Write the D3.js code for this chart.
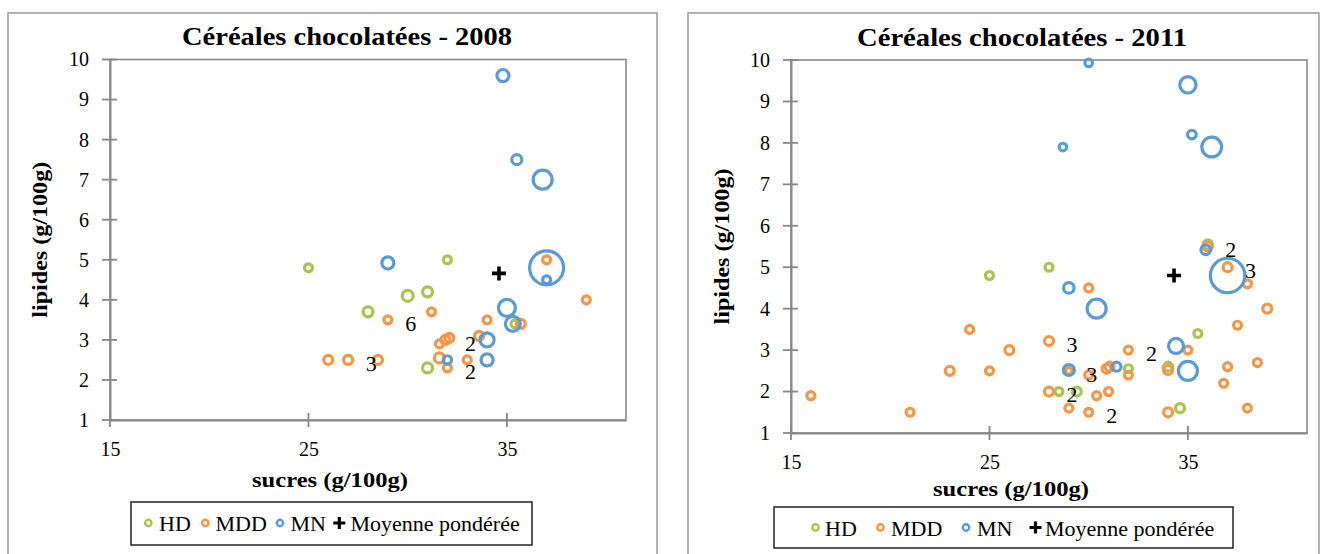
<!DOCTYPE html>
<html><head><meta charset="utf-8">
<script src="https://cdn.jsdelivr.net/npm/d3@7"></script>
<style>body{margin:0;background:#fff}svg{display:block}</style>
</head><body>
<svg id="c" width="1321" height="554"></svg>
<script>
// ---- data ----
const xTicks = [15, 25, 35];
const yTicks = [1, 2, 3, 4, 5, 6, 7, 8, 9, 10];
const seriesNames = ["HD", "MDD", "MN", "Moyenne pondérée"];
const seriesColors = ["#A9C44F", "#F79646", "#5A9BD5", "#000000"];
const titles = ["Céréales chocolatées - 2008", "Céréales chocolatées - 2011"];
const xTitle = "sucres (g/100g)";
const yTitle = "lipides (g/100g)";

// [sucres, lipides, taille de bulle]
const hd2008 = [[25,4.8,5.5],[32,5.0,5.5],[30,4.1,10.5],[31,4.2,8.7],[28,3.7,8.7],[35.4,3.4,5.5],[31,2.3,8.7]];
const mdd2008 = [[26,2.5,7],[27,2.5,7],[28.5,2.5,7],[29,3.5,5.5],[31.2,3.7,5.5],[34,3.5,5.5],[35.7,3.4,7],[33.6,3.1,7],
  [31.9,3.0,7],[32.1,3.05,7],[31.6,2.9,5.5],[31.6,2.55,8.7],[32,2.3,5.5],[33,2.5,5.5],[37,5.0,5.5],[39,4.0,5.5]];
const mn2008 = [[34.8,9.6,12.5],[35.5,7.5,8.7],[36.8,7.0,31],[29,4.92,12.5],[37,4.8,100],[37,4.5,5.5],[35,3.8,25],
  [35.3,3.4,19.5],[34,3.0,17],[34,2.5,12.5],[32,2.5,6]];
const moy2008 = [[34.6,4.66]];
const labels2008 = [[29,3.5,"6"],[27,2.5,"3"],[32,3.0,"2"],[32,2.3,"2"]];

const hd2011 = [[25,4.8,5.5],[28,5.0,5.5],[35.5,3.4,5.5],[32,2.55,5.5],[34,2.6,7],[28.5,2.0,5.5],[29.4,2.0,7],[34.6,1.6,7],[36,5.55,7]];
const mdd2011 = [[16,1.9,5.5],[21,1.5,5.5],[23,2.5,7],[24,3.5,5.5],[25,2.5,5.5],[26,3.0,7],[30,4.5,5.5],[28,3.22,7],
  [32,3.0,5.5],[35,3.0,5.5],[37.5,3.6,5.5],[39,4.0,7],[38,4.6,5.5],[37,5.0,7],[36,5.5,7],[29,2.5,4],[30,2.4,5.5],
  [30.9,2.55,7],[31.05,2.6,7],[32,2.4,5.5],[34,2.52,7],[37,2.6,5.5],[38.5,2.7,5.5],[36.8,2.2,5.5],[28,2.0,7],
  [30.4,1.9,5.5],[31,2.0,5.5],[29,1.6,5.5],[30,1.5,5.5],[34,1.5,7],[38,1.6,5.5]];
const mn2011 = [[30,9.93,5],[35,9.4,23],[35.2,8.2,6.5],[36.2,7.9,34],[28.7,7.9,5],[35.9,5.42,8],[37,4.8,103],
  [29,4.5,9.5],[30.4,4.0,31],[34.4,3.1,19.5],[29,2.52,10.5],[31.4,2.6,7],[35,2.5,31]];
const moy2011 = [[34.3,4.8]];
const labels2011 = [[28,3.22,"3"],[32,3.0,"2"],[29,2.5,"3"],[28,2.0,"2"],[30,1.5,"2"],[36,5.5,"2"],[37,5.0,"3"]];

// ---- layout ----
const charts = [
  { title: titles[0], series: [hd2008, mdd2008, mn2008], moy: moy2008, labels: labels2008,
    frame: [8, 13, 649, 560], plot: [110, 59.5, 626, 420], titleX: 347, titleY: 45,
    yTitleX: 47, xTitleY: 487,
    legend: { box: [131, 502, 401, 43], y: 523, base: 531, marks: [148.3, 205.3, 280, 339.3], texts: [159, 215.5, 290.5, 350.5] } },
  { title: titles[1], series: [hd2011, mdd2011, mn2011], moy: moy2011, labels: labels2011,
    frame: [688, 13, 631, 560], plot: [791, 60, 1307, 433], titleX: 1022, titleY: 46,
    yTitleX: 729, xTitleY: 496,
    legend: { box: [774, 507, 459, 41], y: 527.5, base: 535.5, marks: [815.5, 880.5, 966, 1035.5], texts: [825, 891, 977, 1045] } }
];

const svg = d3.select("#c");
const serif = "Liberation Serif";
const rScale = d3.scaleSqrt().domain([0, 100]).range([0, 17]);
const plusPath = h => `M${-h},0H${h}M0,${-h}V${h}`;

charts.forEach(cfg => {
  const [px0, py0, px1, py1] = cfg.plot;
  const x = d3.scaleLinear().domain([15, 41]).range([px0, px1]);
  const y = d3.scaleLinear().domain([1, 10]).range([py1, py0]);
  const g = svg.append("g");

  // outer frame
  g.append("rect").attr("x", cfg.frame[0]).attr("y", cfg.frame[1])
    .attr("width", cfg.frame[2]).attr("height", cfg.frame[3])
    .attr("fill", "#fff").attr("stroke", "#8c8c8c").attr("stroke-width", 1.3);

  // plot border
  g.append("rect").attr("x", px0).attr("y", py0).attr("width", px1 - px0).attr("height", py1 - py0)
    .attr("fill", "none").attr("stroke", "#8a8a8a").attr("stroke-width", 1.6);

  // title
  g.append("text").attr("x", cfg.titleX).attr("y", cfg.titleY).attr("text-anchor", "middle")
    .attr("font-family", serif).attr("font-weight", "bold").attr("font-size", 25)
    .attr("textLength", 330).attr("lengthAdjust", "spacingAndGlyphs").text(cfg.title);

  // axes
  const yAxis = g.append("g").attr("transform", `translate(${px0},0)`)
    .call(d3.axisLeft(y).tickValues(yTicks).tickSize(0).tickPadding(21).tickFormat(d3.format("d")));
  const xAxis = g.append("g").attr("transform", `translate(0,${py1})`)
    .call(d3.axisBottom(x).tickValues(xTicks).tickSize(0).tickPadding(22).tickFormat(d3.format("d")));
  [yAxis, xAxis].forEach(a => {
    a.attr("font-family", serif).attr("font-size", 20);
    a.select(".domain").attr("stroke", "#888").attr("stroke-width", 2);
    a.selectAll("text").attr("font-family", serif).attr("font-size", 20).attr("fill", "#000");
  });
  // cross tick marks
  g.selectAll(".yt").data(yTicks).join("line").attr("x1", px0 - 8).attr("x2", px0 + 7)
    .attr("y1", d => y(d)).attr("y2", d => y(d)).attr("stroke", "#888").attr("stroke-width", 1.8);
  g.selectAll(".xt").data(xTicks).join("line").attr("y1", py1 - 7).attr("y2", py1 + 7)
    .attr("x1", d => x(d)).attr("x2", d => x(d)).attr("stroke", "#888").attr("stroke-width", 1.8);

  // axis titles
  g.append("text").attr("x", (px0 + px1) / 2 - 38).attr("y", cfg.xTitleY).attr("text-anchor", "middle")
    .attr("font-family", serif).attr("font-weight", "bold").attr("font-size", 21)
    .attr("textLength", 156).attr("lengthAdjust", "spacingAndGlyphs").text(xTitle);
  g.append("text").attr("transform", `translate(${cfg.yTitleX},${(py0 + py1) / 2}) rotate(-90)`)
    .attr("text-anchor", "middle").attr("font-family", serif).attr("font-weight", "bold").attr("font-size", 21)
    .attr("textLength", 156).attr("lengthAdjust", "spacingAndGlyphs").text(yTitle);

  // bubbles
  cfg.series.forEach((data, i) => {
    g.append("g").selectAll("circle").data(data).join("circle")
      .attr("cx", d => x(d[0])).attr("cy", d => y(d[1])).attr("r", d => rScale(d[2]))
      .attr("fill", "none").attr("stroke", seriesColors[i]).attr("stroke-width", 3.2);
  });
  // weighted mean
  g.selectAll(".moy").data(cfg.moy).join("path")
    .attr("transform", d => `translate(${x(d[0])},${y(d[1])})`).attr("d", plusPath(7))
    .attr("stroke", "#000").attr("stroke-width", 3.6);
  // count labels
  g.selectAll(".lbl").data(cfg.labels).join("text")
    .attr("x", d => x(d[0]) + 23).attr("y", d => y(d[1]) + 3).attr("dy", "0.35em")
    .attr("text-anchor", "middle").attr("font-family", serif).attr("font-size", 22).text(d => d[2]);

  // legend
  const L = cfg.legend;
  g.append("rect").attr("x", L.box[0]).attr("y", L.box[1]).attr("width", L.box[2]).attr("height", L.box[3])
    .attr("fill", "#fff").attr("stroke", "#222").attr("stroke-width", 1.5);
  seriesNames.forEach((name, i) => {
    if (i < 3) {
      g.append("circle").attr("cx", L.marks[i]).attr("cy", L.y).attr("r", 3.2)
        .attr("fill", "none").attr("stroke", seriesColors[i]).attr("stroke-width", 2.4);
    } else {
      g.append("path").attr("transform", `translate(${L.marks[i]},${L.y})`).attr("d", plusPath(6))
        .attr("stroke", "#000").attr("stroke-width", 3.2);
    }
    g.append("text").attr("x", L.texts[i]).attr("y", L.base).attr("font-family", serif)
      .attr("font-size", 22).text(name);
  });
});
</script>
</body></html>
